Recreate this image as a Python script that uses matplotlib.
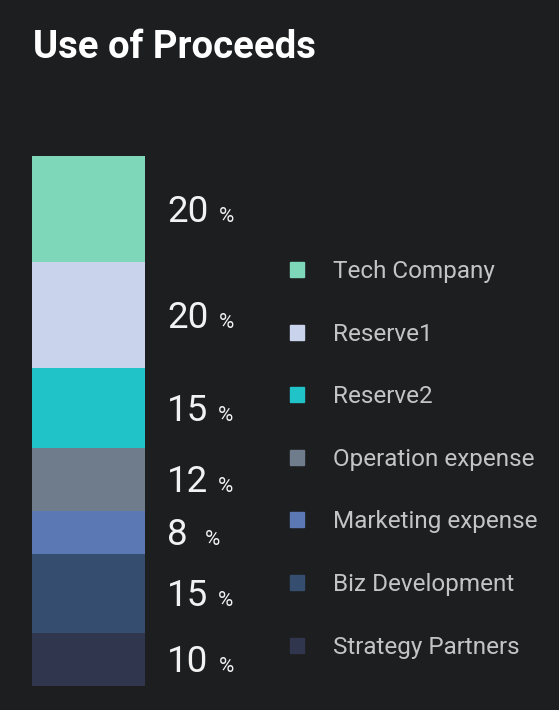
"""Use of Proceeds - single stacked bar with side legend."""

import matplotlib
matplotlib.use("Agg")
import matplotlib.pyplot as plt
from matplotlib.patches import Patch

# data
categories = ["Tech Company", "Reserve1", "Reserve2", "Operation expense",
              "Marketing expense", "Biz Development", "Strategy Partners"]
shares = [20, 20, 15, 12, 8, 15, 10]
colors = ["#7fd7b9", "#c9d3eb", "#1fc3c8", "#6f7c8c", "#5b77b4", "#354e70", "#30364d"]

BG = "#1d1e20"
W, H = 559, 710

plt.rcParams["font.family"] = ["Roboto", "DejaVu Sans"]

fig = plt.figure(figsize=(W / 100, H / 100), dpi=100, facecolor=BG)

# bar axes in pixel placement: x 32..145, y 156..686
bx0, bx1, by0, by1 = 32, 145, 156, 686
ax = fig.add_axes([bx0 / W, 1 - by1 / H, (bx1 - bx0) / W, (by1 - by0) / H])
ax.set_facecolor(BG)
ax.set_xlim(0, 1)
ax.set_ylim(100, 0)
ax.axis("off")

bottom = 0
px_per_unit = (by1 - by0) / 100
label_x = (167 - bx0) / (bx1 - bx0)
num_texts = []
for share, color in zip(shares, colors):
    ax.bar(0.5, share, width=1.0, bottom=bottom, color=color, linewidth=0)
    y = bottom + share / 2 + 13 / px_per_unit
    t = ax.text(label_x, y, f"{share}", fontsize=26.5, color="#f2f2f2",
                va="baseline", ha="left", clip_on=False)
    num_texts.append((t, y, share))
    bottom += share

# place the small % after each number
fig.canvas.draw()
renderer = fig.canvas.get_renderer()
inv = ax.transData.inverted()
for t, y, share in num_texts:
    ext = t.get_window_extent(renderer)
    gap = 17 if share < 10 else 10
    x_data = inv.transform((ext.x1 + gap, 0))[0]
    ax.text(x_data, y, "%", fontsize=15, color="#f2f2f2", va="baseline",
            ha="left", clip_on=False)

# legend
handles = [Patch(facecolor=c, edgecolor=c, label=lab) for c, lab in zip(colors, categories)]
fig.legend(handles=handles, loc="upper left", bbox_to_anchor=(290 / W, 1 - 260 / H),
           frameon=False, labelcolor="#c4c4c4",
           prop={"family": ["Roboto", "DejaVu Sans"], "size": 17.5},
           handlelength=0.57, handleheight=0.57, handletextpad=1.2,
           labelspacing=1.63, borderpad=0, borderaxespad=0)

fig.text(33 / W, 1 - 58 / H, "Use of Proceeds", fontsize=27.5, fontweight="bold",
         color="white", va="baseline", ha="left")

fig.savefig("out.png", dpi=100, facecolor=BG)
